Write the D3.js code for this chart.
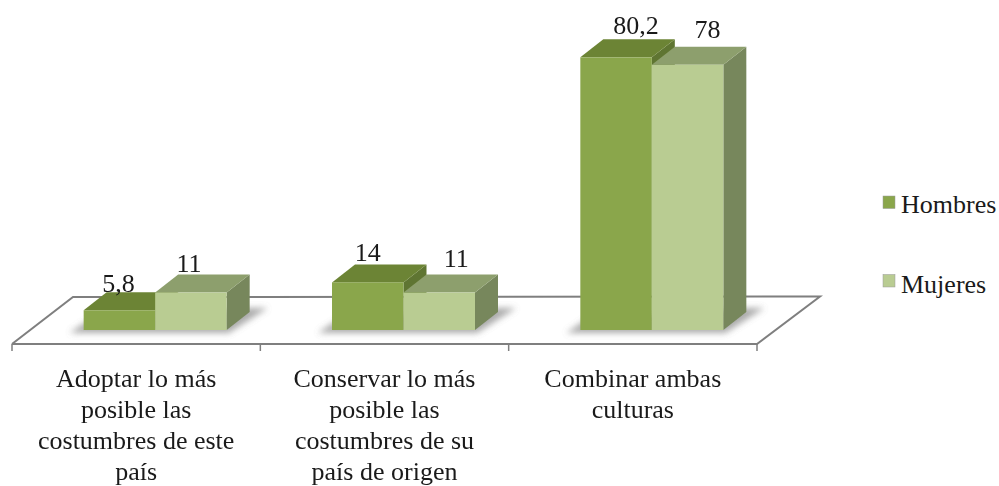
<!DOCTYPE html>
<html><head><meta charset="utf-8">
<script src="https://cdnjs.cloudflare.com/ajax/libs/d3/7.8.5/d3.min.js"></script>
<style>html,body{margin:0;padding:0;background:#fff}svg{display:block}text{font-family:"Liberation Serif",serif;fill:#1a1a1a}</style>
</head><body><svg id="c" width="999" height="486"></svg>
<script>
const categories=["Adoptar lo más posible las costumbres de este país","Conservar lo más posible las costumbres de su país de origen","Combinar ambas culturas"];
const categoryLines=[["Adoptar lo más","posible las","costumbres de este","país"],["Conservar lo más","posible las","costumbres de su","país de origen"],["Combinar ambas","culturas"]];
const seriesNames=["Hombres","Mujeres"];
const hombres=[5.8,14,80.2];
const mujeres=[11,11,78];
const valueLabels=[["5,8","14","80,2"],["11","11","78"]];
const labelNudgeX=[[-1,0,20],[-2,17,20]];
const labelNudgeY=[[-18,-21,-23],[-21,-26,-27]];
const colors=[{front:"#8aa64c",top:"#6c8434",side:"#5f7530"},{front:"#b9cc92",top:"#8d9f6d",side:"#77875c"}];

const W=999,H=486,base=330,dx=23,dy=18,barW=71.5;
const svg=d3.select("#c");
const x=d3.scaleBand().domain(categories).range([12,757]);
const y=d3.scaleLinear().domain([0,80]).range([base,base-272]);
const defs=svg.append("defs");
defs.append("filter").attr("id","sh").attr("x","-30%").attr("y","-60%").attr("width","160%").attr("height","220%")
  .append("feGaussianBlur").attr("stdDeviation",3.2);
defs.append("filter").attr("id","soft").attr("x","-5%").attr("y","-5%").attr("width","110%").attr("height","110%")
  .append("feGaussianBlur").attr("stdDeviation",0.45);
const poly=p=>p.map(d=>d.join(",")).join(" ");

// floor
const floor=svg.append("g").attr("filter","url(#soft)").attr("fill","none").attr("stroke","#7f7f7f").attr("stroke-width",2);
floor.append("polyline").attr("points",poly([[12,344],[73,297],[820,296.5],[757,344],[12,344]]));
const tickXs=categories.map(c=>x(c)).concat([x.range()[1]]);
floor.selectAll("line.t").data(tickXs).join("line").attr("class","t")
  .attr("x1",d=>d).attr("x2",d=>d).attr("y1",344).attr("y2",351).attr("stroke-width",1.5);

// bars
const offset=d=>x(d)+x.bandwidth()/2+19;
const marks=svg.append("g").attr("filter","url(#soft)");
categories.forEach((c,i)=>{
  const cx=offset(c),left=cx-barW,right=cx+barW;
  marks.append("polygon").attr("filter","url(#sh)").attr("fill","#8f8f8f").attr("opacity",0.75)
    .attr("points",poly([[left-14,base+3],[right+2,base+3],[right+dx+18,base-22],[right+dx,base-22],[left+5,base-10]]));
  [hombres,mujeres].forEach((vals,s)=>{
    const x0=left+s*barW,x1=x0+barW,top=y(vals[i]),col=colors[s];
    marks.append("polygon").attr("fill",col.side).attr("points",poly([[x1,top],[x1+dx,top-dy],[x1+dx,base-dy],[x1,base]]));
    marks.append("polygon").attr("fill",col.top).attr("points",poly([[x0,top],[x0+dx,top-dy],[x1+dx,top-dy],[x1,top]]));
    marks.append("rect").attr("x",x0).attr("y",top).attr("width",barW).attr("height",base-top).attr("fill",col.front);
  });
});

// value labels
const labels=svg.append("g").attr("font-size",26).attr("text-anchor","middle");
categories.forEach((c,i)=>{
  const cx=offset(c);
  [hombres,mujeres].forEach((vals,s)=>{
    labels.append("text").text(valueLabels[s][i])
      .attr("x",cx-barW+s*barW+barW/2+labelNudgeX[s][i])
      .attr("y",y(vals[i])+labelNudgeY[s][i]);
  });
});

// category labels
const cat=svg.append("g").attr("font-size",26).attr("text-anchor","middle");
categories.forEach((c,i)=>{
  categoryLines[i].forEach((t,j)=>{
    cat.append("text").text(t).attr("x",x(c)+x.bandwidth()/2).attr("y",387+j*30.9);
  });
});

// legend
const legY=[202,280.5];
const legTextY=[213,293];
const leg=svg.append("g");
seriesNames.forEach((n,i)=>{
  const g=leg.append("g");
  g.append("rect").attr("x",883).attr("y",legY[i]-6).attr("width",12).attr("height",12.5).attr("fill",colors[i].front)
    .attr("stroke","#9a9a9a").attr("stroke-width",0.5).attr("filter","url(#soft)");
  g.append("text").text(n).attr("x",901).attr("y",legTextY[i]).attr("font-size",26);
});
</script></body></html>
